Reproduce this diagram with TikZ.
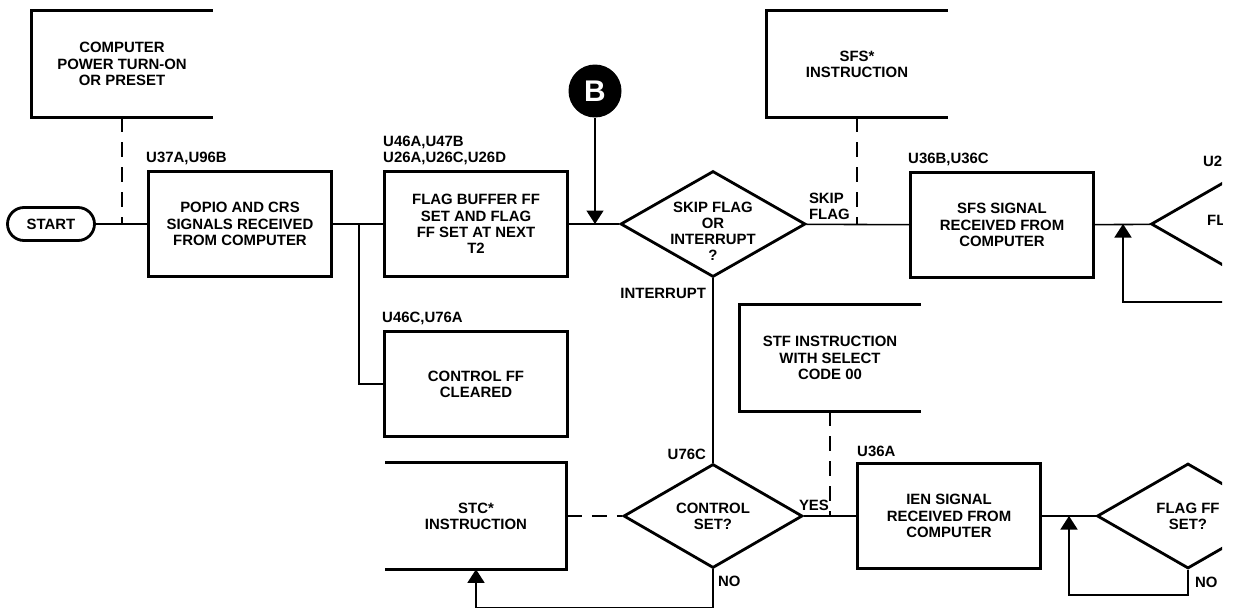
\documentclass[tikz,border=0pt]{standalone}
\usepackage{fontspec}
\setmainfont{Liberation Sans}
\usetikzlibrary{arrows.meta, positioning, shapes.geometric}

\begin{document}
\begin{tikzpicture}[
  x=0.02cm, y=-0.02cm,
  font=\fontsize{8.5}{9.2}\selectfont\bfseries,
  box/.style={draw, line width=1.6pt, align=center, minimum width=3.66cm,
    minimum height=2.1cm, inner sep=2pt},
  openbox/.style={align=center, minimum width=3.62cm, minimum height=2.12cm, inner sep=2pt},
  side/.style={line width=1.6pt},
  dia/.style={draw, diamond, line width=1.6pt, inner sep=0pt},
  txt/.style={align=center, inner sep=1pt},
  term/.style={draw, line width=1.6pt, rounded corners=0.33cm,
    minimum width=1.74cm, minimum height=0.66cm},
  conn/.style={line width=0.9pt},
  dashln/.style={line width=0.9pt, dash pattern=on 0.3cm off 0.2cm},
  arr/.style={line width=0.9pt, -{Triangle[width=0.34cm, length=0.27cm]}},
  lbl/.style={inner sep=1pt, align=left}
]
  \useasboundingbox (0,0) rectangle (1237,609);
  \begin{scope}
  \clip (0,0) rectangle (1222,609);

  % top row
  \node[term] (start) at (51,224) {START};
  \node[openbox] (cpu) at (122,64) {COMPUTER\\POWER TURN-ON\\OR PRESET};
  \draw[side] (cpu.north east) -- (cpu.north west) -- (cpu.south west) -- (cpu.south east);
  \node[box] (popio) at (240,224) {POPIO AND CRS\\SIGNALS RECEIVED\\FROM COMPUTER};
  \node[box] (flagbuf) at (476,224) {FLAG BUFFER FF\\SET AND FLAG\\FF SET AT NEXT\\T2};
  \node[box] (ctrlclr) at (476,384) {CONTROL FF\\CLEARED};
  \node[circle, fill=black, minimum size=1.06cm, inner sep=0pt, text=white,
    font=\fontsize{17}{17}\selectfont\bfseries] (bflag) at (595,91) {B};
  \node[dia, minimum width=3.7cm, minimum height=2.12cm] (skip) at (713,224) {};
  \node[txt] (skiptxt) at ([yshift=-0.15cm]skip.center) {SKIP FLAG\\OR\\INTERRUPT\\?};
  \node[openbox] (sfsins) at (857,64) {SFS*\\INSTRUCTION};
  \draw[side] (sfsins.north east) -- (sfsins.north west) -- (sfsins.south west) -- (sfsins.south east);
  \node[box] (sfssig) at (1002,225) {SFS SIGNAL\\RECEIVED FROM\\COMPUTER};
  \node[dia, minimum width=3.64cm, minimum height=2.1cm] (flagtop) at (1242,224) {};

  % bottom row
  \node[openbox] (stc) at (476,516) {STC*\\INSTRUCTION};
  \draw[side] (stc.north west) -- (stc.north east) -- (stc.south east) -- (stc.south west);
  \node[dia, minimum width=3.58cm, minimum height=2.08cm] (ctrlset) at (713,516) {};
  \node[txt] (ctrltxt) at (ctrlset) {CONTROL\\SET?};
  \node[openbox] (stf) at (830,358) {STF INSTRUCTION\\WITH SELECT\\CODE 00};
  \draw[side] (stf.north east) -- (stf.north west) -- (stf.south west) -- (stf.south east);
  \node[box] (ien) at (949,516) {IEN SIGNAL\\RECEIVED FROM\\COMPUTER};
  \node[dia, minimum width=3.64cm, minimum height=2.1cm] (flagff) at (1188,516) {};
  \node[txt] (flagfftxt) at (flagff) {FLAG FF\\SET?};

  % part numbers and branch labels
  \node[lbl, above right=0.06cm and -0.06cm of popio.north west] (popiolbl) {U37A,U96B};
  \node[lbl, above right=0.06cm and -0.04cm of flagbuf.north west] (flagbuflbl) {U46A,U47B\\U26A,U26C,U26D};
  \node[lbl, above right=0.06cm and -0.06cm of ctrlclr.north west] (ctrlclrlbl) {U46C,U76A};
  \node[lbl, above right=0.06cm and -0.06cm of sfssig.north west] (sfssiglbl) {U36B,U36C};
  \node[lbl, above right=0.06cm and -0.02cm of ien.north west] (ienlbl) {U36A};
  \node[lbl, anchor=west] (u2lbl) at (1201,161) {U2};
  \node[lbl, anchor=west] (fltxt) at (1205,220) {FL};
  \node[lbl, above right=0.04cm and 0cm of skip.east] (skiplbl) {SKIP\\FLAG};
  \node[lbl, below left=0.16cm and 0.1cm of skip.south] (intlbl) {INTERRUPT};
  \node[lbl, above left=0.02cm and 0.1cm of ctrlset.north] (ctrlsetlbl) {U76C};
  \node[lbl, anchor=south west] (yeslbl) at ([xshift=-0.14cm, yshift=0.06cm]ctrlset.east) {YES};
  \node[lbl, below right=0.1cm and 0.06cm of ctrlset.south] (nolbl) {NO};
  \node[lbl, below right=0.1cm and 0.1cm of flagff.south] (noffl) {NO};

  % connectors
  \coordinate (split) at (359,224);
  \coordinate (fbtop) at (1240,302);
  \coordinate (jtop) at (1123,224);
  \coordinate (jbot) at (1069,516);
  \draw[conn] (start) -- (popio);
  \draw[dashln] (cpu) -- (cpu |- start.east);
  \draw[conn] (popio) -- (flagbuf);
  \draw[conn] (split) |- (ctrlclr);
  \draw[conn] (flagbuf) -- (skip);
  \draw[arr] (bflag) -- (bflag |- skip.west);
  \draw[conn] (skip) -- (sfssig);
  \draw[dashln] (sfsins) -- (sfsins |- skip.east);
  \draw[conn] (sfssig) -- (flagtop);
  \draw[arr] (fbtop) -| (jtop);
  \draw[conn] (skip) -- (ctrlset);
  \draw[dashln] (stc) -- (ctrlset);
  \draw[conn] (ctrlset) -- (ien);
  \draw[dashln] (stf) -- (stf |- ctrlset.east);
  \draw[arr] (ctrlset.south) -- ++(0,38) -| (stc.south);
  \draw[conn] (ien) -- (flagff);
  \draw[arr] (flagff.south) -- ++(0,25) -| (jbot);
  \end{scope}
\end{tikzpicture}
\end{document}
